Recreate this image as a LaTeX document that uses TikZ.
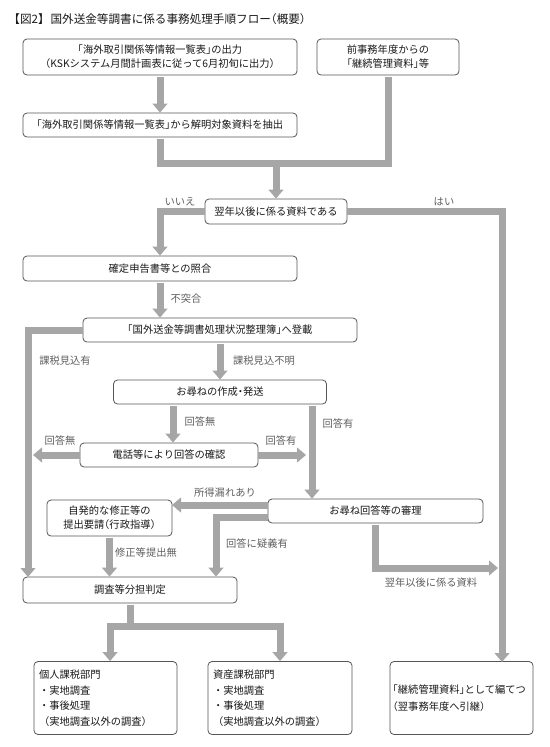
\documentclass[tikz,border=0pt]{standalone}
\usepackage{fontspec}
\setmainfont[RawFeature=+halt]{Noto Sans CJK JP}
\newfontfamily\fullfont{Noto Sans CJK JP}
\usetikzlibrary{arrows.meta}

\definecolor{flowgray}{RGB}{166,166,166}
\definecolor{boxgray}{RGB}{85,85,85}
\definecolor{lblgray}{RGB}{95,95,95}
\definecolor{txtgray}{RGB}{25,25,25}

\newcommand{\boxfont}{\fontsize{7.7pt}{10.5pt}\selectfont}
\newcommand{\listfont}{\fullfont\fontsize{7.7pt}{11.6pt}\selectfont}
\newcommand{\titlefont}{\fontsize{8.7pt}{10pt}\selectfont}

\tikzset{
  box/.style={draw=boxgray, line width=0.6pt, rounded corners=3pt, fill=white,
    text=txtgray, font=\boxfont, align=center, inner sep=0pt},
  flow/.style={draw=flowgray, line width=5.25pt, line join=miter, line cap=butt},
  flowarrow/.style={flow, -{Triangle[width=11pt,length=6.75pt]}},
  flowboth/.style={flow, {Triangle[width=11pt,length=6.75pt]}-{Triangle[width=11pt,length=6.75pt]}},
  lbl/.style={text=lblgray, font=\boxfont, inner sep=0pt}
}

\begin{document}
\begin{tikzpicture}[x=0.75pt, y=-0.75pt]
  \useasboundingbox (0,0) rectangle (550,747);
  % title
  \node[anchor=west, font=\titlefont, inner sep=0pt, text=txtgray] (title) at (14,19)
    {【図2】\hspace{5pt}国外送金等調書に係る事務処理手順フロー（概要）};

  % boxes
  \node[box, minimum width=205.5pt, minimum height=27pt] (extract) at (160,57)
    {「海外取引関係等情報一覧表」の出力\\（KSKシステム月間計画表に従って6月初旬に出力）};
  \node[box, minimum width=106.5pt, minimum height=27pt] (carry) at (388,57)
    {前事務年度からの\\「継続管理資料」等};
  \node[box, minimum width=205.5pt, minimum height=18pt] (pick) at (160,125)
    {「海外取引関係等情報一覧表」から解明対象資料を抽出};
  \node[box, minimum width=106.5pt, minimum height=18.75pt] (judge) at (276,211.5)
    {翌年以後に係る資料である};
  \node[box, minimum width=205.5pt, minimum height=18.75pt] (match) at (160,268.5)
    {確定申告書等との照合};
  \node[box, minimum width=205.5pt, minimum height=18pt] (ledger) at (220,330)
    {「国外送金等調書処理状況整理簿」へ登載};
  \node[box, minimum width=159.75pt, minimum height=18pt] (inquiry) at (220,392)
    {お尋ねの作成・発送};
  \node[box, minimum width=133.5pt, minimum height=18pt] (phone) at (169,455)
    {電話等により回答の確認};
  \node[box, minimum width=161.25pt, minimum height=18pt] (review) at (375.5,511)
    {お尋ね回答等の審理};
  \node[box, minimum width=93.75pt, minimum height=27pt] (advise) at (109.5,518)
    {自発的な修正等の\\提出要請（行政指導）};
  \node[box, minimum width=160.5pt, minimum height=19.5pt] (assign) at (130,590)
    {調査等分担判定};
  \node[box, minimum width=107.25pt, minimum height=54.75pt, text width=99.75pt,
    align=left, font=\listfont] (indiv) at (105.5,698)
    {個人課税部門\\・実地調査\\・事後処理\\（実地調査以外の調査）};
  \node[box, minimum width=108pt, minimum height=54.75pt, text width=100.5pt,
    align=left, font=\listfont] (asset) at (280,698)
    {資産課税部門\\・実地調査\\・事後処理\\（実地調査以外の調査）};
  \node[box, minimum width=107.25pt, minimum height=54.75pt, text width=103pt,
    align=left, font=\fontsize{7.7pt}{12.5pt}\selectfont] (keep) at (461.5,698)
    {「継続管理資料」として編てつ\\（翌事務年度へ引継）};

  % junction points
  \coordinate (merge) at (276,163);
  \coordinate (yes) at (502,662);
  \coordinate (taxcol) at (28,577);
  \coordinate (replied) at (312,450);
  \coordinate (noreply) at (33,455);
  \coordinate (hreply) at (306,455);
  \coordinate (leak) at (172,505);
  \coordinate (doubt) at (216,517);
  \coordinate (later) at (498,568);
  \coordinate (split) at (130,626);

  % connectors
  \draw[flowarrow, shorten <=1.5pt] (extract.south) -- (pick.north);
  \draw[flow, shorten <=1.5pt, shorten >=1.5pt] (pick.south) |- (merge) -| (carry.south);
  \draw[flowarrow] (merge) -- (judge.north);
  \draw[flowarrow] (judge.west) -| (match.north);
  \draw[flowarrow] (judge.east) -| (yes);
  \draw[flowarrow, shorten <=1.5pt] (match.south) -- (match.south |- ledger.north);
  \draw[flowarrow] (ledger.west) -| (taxcol);
  \draw[flowarrow, shorten <=1.5pt] (ledger.south) -- (ledger.south |- inquiry.north);
  \draw[flowarrow, shorten <=1.5pt] ([xshift=3pt]inquiry.south -| phone.north) -- ([xshift=3pt]phone.north);
  \draw[flowarrow, shorten <=1.5pt] (inquiry.south -| replied) -- (review.north -| replied);
  \draw[flowarrow] (phone.west) -- (noreply);
  \draw[flowarrow] (phone.east) -- (hreply);
  \draw[flowarrow] (review.west |- leak) -- (leak);
  \draw[flowarrow] (review.west |- doubt) -| (doubt |- assign.north);
  \draw[flowarrow, shorten <=1.5pt] (review.south) |- (later);
  \draw[flowarrow, shorten <=1.5pt] (advise.south) -- (advise.south |- assign.north);
  \draw[flow, shorten <=1.5pt] (assign.south) -- (split);
  \draw[flowboth] ([xshift=3.4pt]indiv.north) |- (split) -| (asset.north);

  % labels
  \node[lbl] (lno) at (180,202) {いいえ};
  \node[lbl] (lyes) at (444,202) {はい};
  \node[lbl] (lmis) at (186,299) {不突合};
  \node[lbl] (ltax) at (65,361) {課税見込有};
  \node[lbl] (lunk) at (264,361) {課税見込不明};
  \node[lbl] (lnone) at (200,422) {回答無};
  \node[lbl] (lans) at (338,424) {回答有};
  \node[lbl] (lnone2) at (60,441) {回答無};
  \node[lbl] (lans2) at (281,441) {回答有};
  \node[lbl] (lleak) at (225,493) {所得漏れあり};
  \node[lbl] (ldoubt) at (257,544) {回答に疑義有};
  \node[lbl] (lfix) at (146,553) {修正等提出無};
  \node[lbl] (llater) at (431,583) {翌年以後に係る資料};
\end{tikzpicture}
\end{document}
